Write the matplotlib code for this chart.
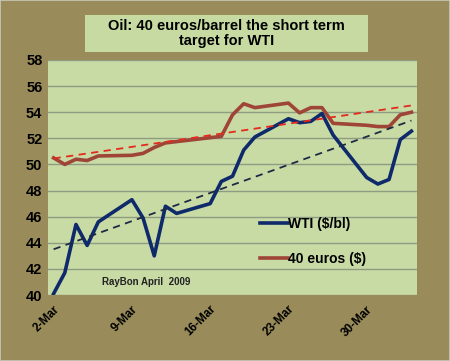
import datetime as dt
import numpy as np
import matplotlib
matplotlib.use("Agg")
import matplotlib.pyplot as plt
import matplotlib.dates as mdates
from matplotlib.patches import Rectangle

plt.rcParams["font.family"] = ["Liberation Sans", "DejaVu Sans"]

# trading days, March 2 - April 3 2009
days = [dt.date(2009, 3, d) for d in (2, 3, 4, 5, 6, 9, 10, 11, 12, 13, 16, 17, 18, 19, 20,
                                      23, 24, 25, 26, 27, 30, 31)] + \
       [dt.date(2009, 4, d) for d in (1, 2, 3)]
wti = [40.1, 41.7, 45.4, 43.8, 45.6, 47.3, 45.9, 43.0, 46.8, 46.25, 47.0, 48.7, 49.1,
       51.1, 52.1, 53.5, 53.2, 53.3, 53.9, 52.25, 49.0, 48.5, 48.85, 51.9, 52.55]
eur40 = [50.5, 50.0, 50.4, 50.3, 50.65, 50.7, 50.85, 51.3, 51.65, 51.75, 52.05, 52.15, 53.8,
         54.65, 54.35, 54.7, 53.95, 54.35, 54.35, 53.15, 53.0, 52.9, 52.9, 53.8, 54.0]
tick_days = [dt.date(2009, 3, d) for d in (2, 9, 16, 23, 30)]
yticks = list(range(40, 59, 2))

OUTER = "#998c5a"
PLOT_BG = "#c9dba5"
TITLE_BG = "#c7daa1"

fig = plt.figure(figsize=(4.5, 3.61), dpi=100, facecolor=OUTER)
ax = fig.add_axes([0.1067, 0.1828, 0.82, 0.651])
ax.set_facecolor(PLOT_BG)

x = mdates.date2num(days)
ax.plot(x, wti, color="#0f2a6a", lw=2.6, label="WTI ($/bl)", zorder=4)
ax.plot(x, eur40, color="#9e4538", lw=2.6, label="40 euros ($)", zorder=3)

# linear trendlines
for ser, col in ((wti, "#1c2a45"), (eur40, "#e42a1c")):
    k, b = np.polyfit(x, ser, 1)
    ax.plot(x, k * x + b, color=col, lw=1.3, ls=(0, (4, 3)), zorder=5)

ax.set_xlim(x[0] - 0.5, x[-1] + 0.5)
ax.set_ylim(40, 58)
ax.set_yticks(yticks)
ax.yaxis.grid(True, color="#8e9c82", lw=1)
ax.set_axisbelow(True)
ax.set_xticks(mdates.date2num(tick_days))
ax.set_xticklabels([f"{d.day}-Mar" for d in tick_days], rotation=45, ha="right",
                   rotation_mode="anchor", fontsize=8.5, fontweight="bold")
for t in ax.get_yticklabels():
    t.set_fontsize(10.5)
    t.set_fontweight("bold")
ax.tick_params(length=0, pad=4)
ax.tick_params(axis="x", pad=6)
for s in ax.spines.values():
    s.set_visible(False)

ax.text(mdates.date2num(dt.date(2009, 3, 10)) + 0.3, 41.0, "RayBon April  2009",
        fontsize=7, fontweight="bold", color="#222222", ha="center", va="center")

ax.legend(loc="lower left", bbox_to_anchor=(0.54, 0.07), frameon=False, handlelength=2.0,
          handletextpad=0.05, labelspacing=1.55, prop={"weight": "bold", "size": 10})

# title box
fig.add_artist(Rectangle((85 / 450, 1 - 52 / 361), 283 / 450, 37 / 361,
                         transform=fig.transFigure, fc=TITLE_BG, ec="none"))
fig.text(226.5 / 450, 1 - 33.5 / 361, "Oil: 40 euros/barrel the short term\ntarget for WTI",
         ha="center", va="center", fontsize=10.5, fontweight="bold", linespacing=1.15)

# light frame on right / bottom edge
fig.add_artist(Rectangle((0, 0), 1, 1, transform=fig.transFigure, fc="none",
                         ec="#c8c8b8", lw=1.2))

fig.savefig("out.png", dpi=100, facecolor=OUTER)
